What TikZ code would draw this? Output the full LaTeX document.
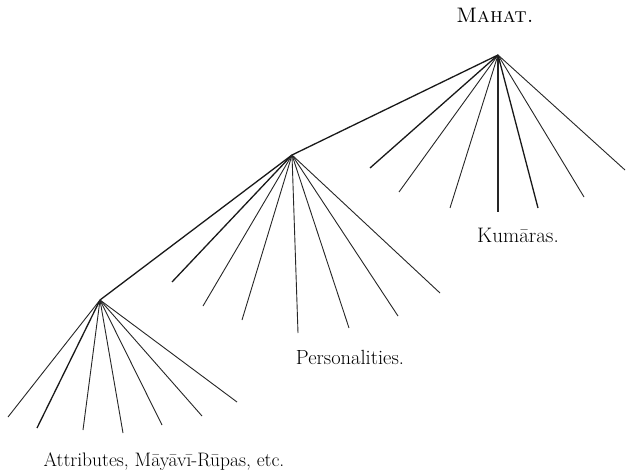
\documentclass[tikz,border=0pt]{standalone}
\usepackage{fontspec}
\begin{document}
\begin{tikzpicture}[x=1pt,y=-1pt,
  trunk/.style={line width=1.3pt,black!90},
  ray/.style={line width=0.9pt,black!85},
  heavyray/.style={line width=1.3pt,black!90},
  lbl/.style={inner sep=0pt,anchor=base}]
\useasboundingbox[fill=white] (0,0) rectangle (626,476);
% apexes
\coordinate (A) at (498,55);
\coordinate (B) at (292,155);
\coordinate (C) at (100,300);
% top fan
\coordinate (a1) at (370,168);
\coordinate (a2) at (399,192);
\coordinate (a3) at (450,208);
\coordinate (a4) at (498,212);
\coordinate (a5) at (538,208);
\coordinate (a6) at (584,197);
\coordinate (a7) at (625,170);
% mid fan
\coordinate (b1) at (172,282);
\coordinate (b2) at (203,306);
\coordinate (b3) at (242,320);
\coordinate (b4) at (298,333);
\coordinate (b5) at (349,328);
\coordinate (b6) at (398,316);
\coordinate (b7) at (440,293);
% bottom fan
\coordinate (c1) at (8,417);
\coordinate (c2) at (37,428);
\coordinate (c3) at (83,430);
\coordinate (c4) at (123,433);
\coordinate (c5) at (162,425);
\coordinate (c6) at (202,416);
\coordinate (c7) at (237,402);
% trunk
\draw[trunk] (A) -- (B);
\draw[trunk] (B) -- (C);
% rays
\draw[heavyray] (A) -- (a1);
\draw[ray] (A) -- (a2);
\draw[ray] (A) -- (a3);
\draw[ray,line width=1.1pt] (A) -- (a4);
\draw[heavyray] (A) -- (a5);
\draw[ray] (A) -- (a6);
\draw[ray] (A) -- (a7);
\draw[heavyray] (B) -- (b1);
\draw[ray] (B) -- (b2);
\draw[ray] (B) -- (b3);
\draw[ray] (B) -- (b4);
\draw[ray] (B) -- (b5);
\draw[ray] (B) -- (b6);
\draw[ray] (B) -- (b7);
\draw[ray] (C) -- (c1);
\draw[heavyray] (C) -- (c2);
\draw[ray] (C) -- (c3);
\draw[ray] (C) -- (c4);
\draw[ray] (C) -- (c5);
\draw[ray] (C) -- (c6);
\draw[ray] (C) -- (c7);
% labels
\node[lbl,font=\fontsize{21}{24}\selectfont] (mahat) at (495,23) {\textsc{Mahat.}};
\node[lbl,font=\fontsize{21}{24}\selectfont] (kum) at (518,242) {Kumāras.};
\node[lbl,font=\fontsize{20.5}{24}\selectfont] (pers) at (350,364) {Personalities.};
\node[lbl,font=\fontsize{19.5}{22}\selectfont] (attr) at (164,466) {Attributes, Māyāvī-Rūpas, etc.};
\end{tikzpicture}
\end{document}
